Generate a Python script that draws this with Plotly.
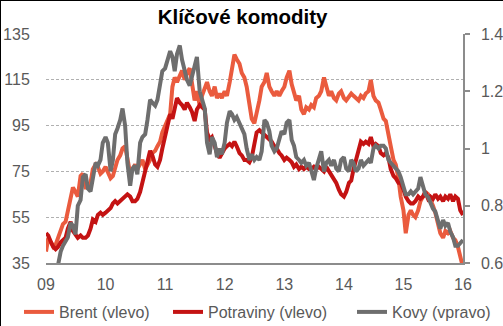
import pandas as pd
import plotly.graph_objects as go

# ---- data (semi-monthly observations, 1st and 15th of each month) ----
start_date = "2009-01-01"
n_points = 169

brent = [
    # 2009
    40, 46, 44, 42, 43, 46, 50, 52, 53, 58, 63, 68, 66, 64, 73, 74, 68, 68, 70, 76, 78, 77, 74, 75,
    # 2010
    77, 75, 72, 73, 77, 80, 82, 85, 86, 80, 74, 76, 78, 76, 78, 80, 76, 78, 80, 83, 84, 86, 88, 92,
    # 2011
    95, 98, 100, 112, 116, 114, 117, 119, 115, 118, 120, 112, 106, 110, 104, 108, 111, 114, 110, 108, 112, 107, 109, 107,
    # 2012
    110, 108, 114, 120, 126, 124, 122, 118, 116, 112, 104, 98, 96, 100, 106, 112, 114, 118, 112, 110, 108, 110, 108, 110,
    # 2013
    112, 116, 119, 113, 110, 106, 108, 102, 100, 103, 102, 104, 103, 107, 108, 110, 116, 112, 108, 110, 107, 106, 109, 110,
    # 2014
    107, 106, 108, 109, 108, 107, 106, 108, 107, 109, 110, 115, 108, 106, 105, 102, 98, 97, 92, 86, 80, 78, 72, 64,
    # 2015
    58, 48, 56, 58, 56, 55, 58, 62, 64, 66, 65, 63, 60, 57, 52, 48, 46, 49, 48, 49, 46, 45, 42, 38,
    # 2016
    33,
]

potraviny = [
    # 2009
    48, 47, 44, 42, 41, 42, 44, 45, 46, 50, 53, 49, 47, 46, 47, 46, 46, 47, 50, 54, 53, 56, 57, 56,
    # 2010
    57, 58, 59, 61, 62, 61, 62, 63, 64, 65, 64, 62, 62, 63, 66, 70, 76, 80, 84, 82, 78, 77, 80, 85,
    # 2011
    90, 95, 100, 98, 103, 107, 105, 104, 102, 105, 103, 101, 97, 102, 104, 103, 102, 92, 89, 90, 86, 83, 81, 83,
    # 2012
    85, 86, 87, 86, 88, 86, 83, 82, 80, 80, 79, 81, 88, 92, 93, 92, 91, 90, 89, 88, 86, 85, 83, 82,
    # 2013
    80, 81, 80, 79, 77, 78, 76, 77, 76, 77, 76, 76, 77, 76, 77, 76, 75, 77, 75, 73, 71, 70, 67, 65,
    # 2014
    64, 66, 70, 71, 76, 80, 84, 88, 87, 88, 87, 90, 86, 87, 86, 83, 82, 83, 81, 76, 73, 72, 70, 70,
    # 2015
    67, 64, 62, 61, 61, 62, 64, 63, 64, 66, 63, 64, 63, 65, 63, 64, 62, 64, 63, 65, 62, 64, 63, 58,
    # 2016
    56,
]

kovy = [
    # 2009
    0.50, 0.50, 0.51, 0.52, 0.55, 0.59, 0.64, 0.66, 0.68, 0.69, 0.74, 0.73, 0.70, 0.80, 0.82, 0.90, 0.91, 0.86, 0.85, 0.89, 0.95, 0.94, 0.96, 1.02,
    # 2010
    1.04, 1.02, 0.92, 0.96, 1.05, 1.07, 1.10, 1.14, 1.08, 0.95, 0.87, 0.93, 0.94, 0.91, 1.02, 1.04, 1.05, 1.10, 1.17, 1.16, 1.15, 1.17, 1.22, 1.27,
    # 2011
    1.28, 1.31, 1.34, 1.32, 1.27, 1.33, 1.36, 1.31, 1.27, 1.24, 1.22, 1.25, 1.28, 1.32, 1.20, 1.17, 1.14, 1.02, 0.98, 1.04, 1.02, 0.97, 1.00, 0.98,
    # 2012
    1.02, 1.09, 1.13, 1.12, 1.10, 1.11, 1.09, 1.07, 1.05, 1.00, 0.96, 0.98, 0.96, 0.97, 0.96, 0.99, 1.10, 1.09, 1.06, 1.01, 0.99, 1.00, 1.04, 1.06,
    # 2013
    1.05, 1.09, 1.10, 1.03, 1.01, 0.97, 0.96, 0.95, 0.96, 0.94, 0.95, 0.92, 0.89, 0.93, 0.96, 0.99, 0.92, 0.95, 0.96, 0.94, 0.96, 0.93, 0.92, 0.96,
    # 2014
    0.97, 0.93, 0.92, 0.96, 0.95, 0.92, 0.93, 0.96, 0.94, 0.95, 0.96, 0.95, 1.00, 1.01, 1.00, 1.01, 1.01, 1.00, 0.96, 0.95, 0.94, 0.93, 0.92, 0.90,
    # 2015
    0.87, 0.84, 0.84, 0.85, 0.84, 0.85, 0.86, 0.90, 0.86, 0.84, 0.83, 0.81, 0.79, 0.78, 0.75, 0.72, 0.75, 0.73, 0.74, 0.71, 0.69, 0.66, 0.66, 0.67,
    # 2016
    0.68,
]

series_names = ["Brent (vlevo)", "Potraviny (vlevo)", "Kovy (vpravo)"]
title_text = "Klíčové komodity"
year_ticks = ["2009-01-01", "2010-01-01", "2011-01-01", "2012-01-01",
              "2013-01-01", "2014-01-01", "2015-01-01", "2016-01-01"]
year_labels = ["09", "10", "11", "12", "13", "14", "15", "16"]
left_ticks = [35, 55, 75, 95, 115, 135]
right_ticks = [0.6, 0.8, 1.0, 1.2, 1.4]
right_labels = ["0.6", "0.8", "1", "1.2", "1.4"]

dates = pd.date_range(start_date, periods=n_points, freq="SMS")

# ---- styling ----
FONT = "Liberation Sans, Arial, sans-serif"
TXT = "#595959"
C_BRENT = "#EA5B3E"
C_POTR = "#C41313"
C_KOVY = "#6E6E6E"
W, H = 503, 326
ML, MR, MT, MB = 46, 40, 34, 63
pw = W - ML - MR
ph = H - MT - MB

# legend entry left edges (pixels from the picture's left edge)
legend_left_px = [19, 168, 352]
legend_y = -49 / ph

fig = go.Figure()
traces = [(brent, C_BRENT, "y", "legend"),
          (potraviny, C_POTR, "y", "legend2"),
          (kovy, C_KOVY, "y2", "legend3")]
for (vals, col, yax, leg), name in zip(traces, series_names):
    fig.add_trace(go.Scatter(x=dates, y=vals, name=name, mode="lines",
                             line=dict(color=col, width=4), yaxis=yax, legend=leg))


def legend_box(px):
    return dict(orientation="h", x=(px - ML) / pw, xanchor="left",
                y=legend_y, yanchor="middle",
                font=dict(family=FONT, size=16, color=TXT),
                itemwidth=30, bgcolor="rgba(0,0,0,0)", borderwidth=0)


fig.update_layout(
    width=W, height=H,
    margin=dict(l=ML, r=MR, t=MT, b=MB, pad=0, autoexpand=False),
    paper_bgcolor="white", plot_bgcolor="white",
    font=dict(family=FONT, size=16, color=TXT),
    title=dict(text="<b>" + title_text + "</b>", x=242.5 / W, xanchor="center",
               y=1 - 17 / H, yanchor="middle",
               font=dict(family=FONT, size=20.5, color="black")),
    showlegend=True,
    legend=legend_box(legend_left_px[0]),
    legend2=legend_box(legend_left_px[1]),
    legend3=legend_box(legend_left_px[2]),
    xaxis=dict(type="date", range=[year_ticks[0], year_ticks[-1]],
               tickvals=year_ticks, ticktext=year_labels, automargin=False,
               showgrid=False, zeroline=False,
               showline=True, linecolor="#8C8C8C", linewidth=2,
               ticks="outside", ticklen=6, tickcolor="rgba(0,0,0,0)",
               tickfont=dict(size=16, color=TXT)),
    yaxis=dict(range=[35, 135], tickvals=left_ticks, automargin=False,
               showgrid=True, gridcolor="#B0B0B0", gridwidth=1, griddash="3px,2px",
               zeroline=False, showline=False,
               ticks="outside", ticklen=12, tickcolor="rgba(0,0,0,0)",
               tickfont=dict(size=16, color=TXT)),
    yaxis2=dict(range=[0.6, 1.4], tickvals=right_ticks, ticktext=right_labels,
                overlaying="y", side="right", showgrid=False, zeroline=False,
                automargin=False,
                showline=True, linecolor="#8C8C8C", linewidth=1.5,
                ticks="outside", ticklen=5, tickcolor="#8C8C8C", tickwidth=1.5,
                ticklabelstandoff=8,
                tickfont=dict(size=16, color=TXT)),
)

# thin black frame on the left and top edges of the picture
fig.add_shape(type="line", xref="paper", yref="paper",
              x0=-ML / pw + 0.5 / pw, x1=-ML / pw + 0.5 / pw,
              y0=-MB / ph, y1=1 + MT / ph, line=dict(color="black", width=1))
fig.add_shape(type="line", xref="paper", yref="paper",
              x0=-ML / pw, x1=1 + MR / pw,
              y0=1 + MT / ph - 0.5 / ph, y1=1 + MT / ph - 0.5 / ph,
              line=dict(color="black", width=1))

fig.write_html("out.html",
               config={"displayModeBar": False},
               post_script="document.body.style.margin='0';document.body.style.padding='0';"
                           "document.body.style.overflow='hidden';")
